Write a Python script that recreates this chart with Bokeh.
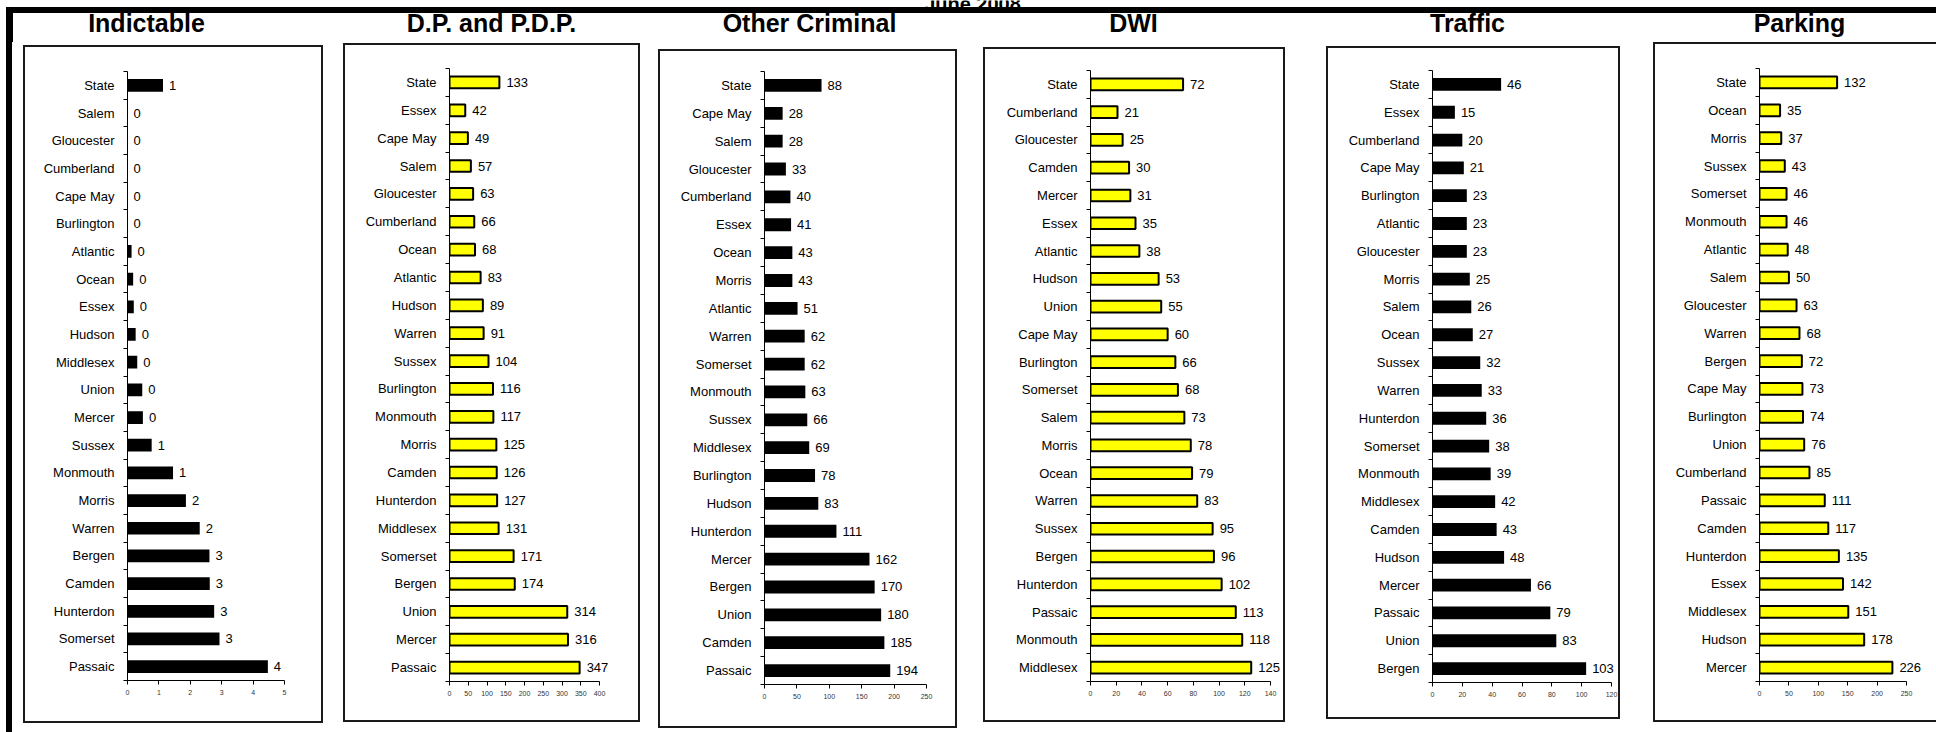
from bokeh.plotting import figure
from bokeh.models import Range1d, FixedTicker, LinearAxis, ColumnDataSource, LabelSet, Spacer
from bokeh.layouts import row, column
from bokeh.embed import file_html
from bokeh.resources import INLINE
from bokeh.core.properties import value

FONT = "Liberation Sans"
YELLOW = "#FFFF00"
BLACK = "#000000"

HEADER = "June 2008"
TITLES = ["Indictable", "D.P. and P.D.P.", "Other Criminal", "DWI", "Traffic", "Parking"]

indictable_counties = ["State", "Salem", "Gloucester", "Cumberland", "Cape May", "Burlington",
                       "Atlantic", "Ocean", "Essex", "Hudson", "Middlesex", "Union", "Mercer",
                       "Sussex", "Monmouth", "Morris", "Warren", "Bergen", "Camden", "Hunterdon",
                       "Somerset", "Passaic"]
indictable_values = [1.13, 0, 0, 0, 0, 0, 0.13, 0.18, 0.2, 0.26, 0.31, 0.47, 0.49,
                     0.77, 1.45, 1.86, 2.3, 2.61, 2.62, 2.76, 2.93, 4.47]

dp_counties = ["State", "Essex", "Cape May", "Salem", "Gloucester", "Cumberland", "Ocean",
               "Atlantic", "Hudson", "Warren", "Sussex", "Burlington", "Monmouth", "Morris",
               "Camden", "Hunterdon", "Middlesex", "Somerset", "Bergen", "Union", "Mercer", "Passaic"]
dp_values = [133, 42, 49, 57, 63, 66, 68, 83, 89, 91, 104, 116, 117, 125, 126, 127, 131,
             171, 174, 314, 316, 347]

oc_counties = ["State", "Cape May", "Salem", "Gloucester", "Cumberland", "Essex", "Ocean",
               "Morris", "Atlantic", "Warren", "Somerset", "Monmouth", "Sussex", "Middlesex",
               "Burlington", "Hudson", "Hunterdon", "Mercer", "Bergen", "Union", "Camden", "Passaic"]
oc_values = [88, 28, 28, 33, 40, 41, 43, 43, 51, 62, 62, 63, 66, 69, 78, 83, 111, 162,
             170, 180, 185, 194]

dwi_counties = ["State", "Cumberland", "Gloucester", "Camden", "Mercer", "Essex", "Atlantic",
                "Hudson", "Union", "Cape May", "Burlington", "Somerset", "Salem", "Morris",
                "Ocean", "Warren", "Sussex", "Bergen", "Hunterdon", "Passaic", "Monmouth", "Middlesex"]
dwi_values = [72, 21, 25, 30, 31, 35, 38, 53, 55, 60, 66, 68, 73, 78, 79, 83, 95, 96,
              102, 113, 118, 125]

traffic_counties = ["State", "Essex", "Cumberland", "Cape May", "Burlington", "Atlantic",
                    "Gloucester", "Morris", "Salem", "Ocean", "Sussex", "Warren", "Hunterdon",
                    "Somerset", "Monmouth", "Middlesex", "Camden", "Hudson", "Mercer", "Passaic",
                    "Union", "Bergen"]
traffic_values = [46, 15, 20, 21, 23, 23, 23, 25, 26, 27, 32, 33, 36, 38, 39, 42, 43, 48,
                  66, 79, 83, 103]

parking_counties = ["State", "Ocean", "Morris", "Sussex", "Somerset", "Monmouth", "Atlantic",
                    "Salem", "Gloucester", "Warren", "Bergen", "Cape May", "Burlington", "Union",
                    "Cumberland", "Passaic", "Camden", "Hunterdon", "Essex", "Middlesex",
                    "Hudson", "Mercer"]
parking_values = [132, 35, 37, 43, 46, 46, 48, 50, 63, 68, 72, 73, 74, 76, 85, 111, 117,
                  135, 142, 151, 178, 226]

axis_max = [5, 400, 250, 140, 120, 250]
axis_step = [1, 50, 50, 20, 20, 50]

# page layout (pixels from the page's top-left corner)
PAGE_W, PAGE_H = 1936, 732
ROW_TOP = 42
FRAME_X0, FRAME_X1 = 6, 12      # thick left frame bar
FRAME_Y0, FRAME_Y1 = 7, 12      # thick top frame bar
boxes = [(23, 45, 323, 723), (343, 43, 640, 722), (658, 49, 957, 728),
         (983, 47, 1285, 722), (1326, 46, 1620, 719), (1653, 42, 1936, 722)]
axis_x = [127, 449, 764, 1090, 1432, 1759]
axis_end = [284, 599, 926, 1270, 1611, 1906]
axis_top = [71, 68, 71, 70, 70, 68]
axis_bottom = [680, 681, 684, 681, 682, 681]
title_cx = [146, 491, 809, 1133, 1467, 1799]
TITLE_MID = 22.5


def make_panel(counties, values, xmax, xstep, color, box, ax, ae, yt, yb, open_right):
    left, top, right, bottom = box
    n = len(counties)
    # frame runs to near the box edge so value labels are not clipped;
    # the axis itself is bounded to [0, xmax]
    frame_right = right - 2
    x_end = xmax * (frame_right - ax) / (ae - ax)
    p = figure(width=right - left, height=bottom - top, output_backend="svg",
               toolbar_location=None, x_range=Range1d(0, x_end),
               y_range=Range1d(n - 0.5, -0.5), x_axis_type=None, y_axis_type=None,
               min_border_left=ax - left, min_border_right=right - frame_right,
               min_border_top=yt - top, min_border_bottom=bottom - yb)
    p.outline_line_color = None
    p.background_fill_alpha = 0
    p.border_fill_alpha = 0
    edge = "#1a1a1a"
    shadows = [f"inset 2px 0 0 {edge}", f"inset 0 2px 0 {edge}", f"inset 0 -2px 0 {edge}"]
    if not open_right:
        shadows.append(f"inset -2px 0 0 {edge}")
    p.styles = {"box-shadow": ", ".join(shadows)}

    xaxis = LinearAxis(ticker=FixedTicker(ticks=list(range(0, xmax + 1, xstep))),
                       bounds=(0, xmax))
    xaxis.axis_line_color = BLACK
    xaxis.major_tick_line_color = BLACK
    xaxis.major_tick_out = 4
    xaxis.major_tick_in = 0
    xaxis.minor_tick_line_color = None
    xaxis.major_label_text_font = FONT
    xaxis.major_label_text_font_size = "7px"
    xaxis.major_label_text_color = "#333333"
    xaxis.major_label_standoff = 5
    p.add_layout(xaxis, "below")

    yaxis = LinearAxis(ticker=FixedTicker(ticks=list(range(n)),
                                          minor_ticks=[i - 0.5 for i in range(n + 1)]))
    yaxis.major_label_overrides = {i: c for i, c in enumerate(counties)}
    yaxis.axis_line_color = BLACK
    yaxis.major_tick_out = 0
    yaxis.major_tick_in = 0
    yaxis.major_tick_line_color = None
    yaxis.minor_tick_out = 4
    yaxis.minor_tick_in = 0
    yaxis.minor_tick_line_color = BLACK
    yaxis.major_label_text_font = FONT
    yaxis.major_label_text_font_size = "13px"
    yaxis.major_label_text_color = BLACK
    yaxis.major_label_standoff = 9
    p.add_layout(yaxis, "left")

    src = ColumnDataSource(dict(y=list(range(n)), v=values, t=[f"{v:.0f}" for v in values]))
    if color == YELLOW:
        p.hbar(y="y", left=0, right="v", height=0.42, fill_color=YELLOW,
               line_color=BLACK, line_width=2, source=src)
        off = 7
    else:
        p.hbar(y="y", left=0, right="v", height=0.46, fill_color=BLACK,
               line_color=None, source=src)
        off = 6
    p.add_layout(LabelSet(x="v", y="y", text="t", source=src, x_offset=off,
                          text_baseline="middle", text_align="left",
                          text_font=value(FONT), text_font_size=value("13px"),
                          text_color=BLACK))
    return p


# header strip: page frame, (cropped) page heading and the six panel titles
head = figure(width=PAGE_W, height=ROW_TOP, output_backend="svg",
              toolbar_location=None, x_range=Range1d(0, PAGE_W),
              y_range=Range1d(ROW_TOP, 0), x_axis_type=None, y_axis_type=None,
              min_border=0)
head.outline_line_color = None
head.quad(left=[FRAME_X0], right=[PAGE_W], top=[FRAME_Y0], bottom=[FRAME_Y1], color=BLACK)
head.quad(left=[FRAME_X0], right=[FRAME_X1], top=[FRAME_Y0], bottom=[ROW_TOP], color=BLACK)
head.text(x=[972], y=[3], text=[HEADER], text_align="center", text_baseline="alphabetic",
          text_font=value(FONT), text_font_style="bold", text_font_size="20px")
head.text(x=title_cx, y=[TITLE_MID] * 6, text=TITLES, text_align="center",
          text_baseline="middle", text_font=value(FONT), text_font_style="bold",
          text_font_size="25px", text_color=BLACK)

data = [(indictable_counties, indictable_values, BLACK),
        (dp_counties, dp_values, YELLOW),
        (oc_counties, oc_values, BLACK),
        (dwi_counties, dwi_values, YELLOW),
        (traffic_counties, traffic_values, BLACK),
        (parking_counties, parking_values, YELLOW)]

row_h = PAGE_H - ROW_TOP
items = [Spacer(width=FRAME_X0, height=row_h),
         Spacer(width=FRAME_X1 - FRAME_X0, height=row_h, styles={"background-color": BLACK})]
prev_right = FRAME_X1
for i, (cats, vals, col) in enumerate(data):
    box = boxes[i]
    if box[0] > prev_right:
        items.append(Spacer(width=box[0] - prev_right, height=10))
    p = make_panel(cats, vals, axis_max[i], axis_step[i], col, box, axis_x[i],
                   axis_end[i], axis_top[i], axis_bottom[i], open_right=(i == 5))
    kids = []
    if box[1] > ROW_TOP:
        kids.append(Spacer(width=box[2] - box[0], height=box[1] - ROW_TOP))
    kids.append(p)
    items.append(column(*kids))
    prev_right = box[2]

page = column(head, row(*items))
open("out.html", "w").write(file_html(page, INLINE))
